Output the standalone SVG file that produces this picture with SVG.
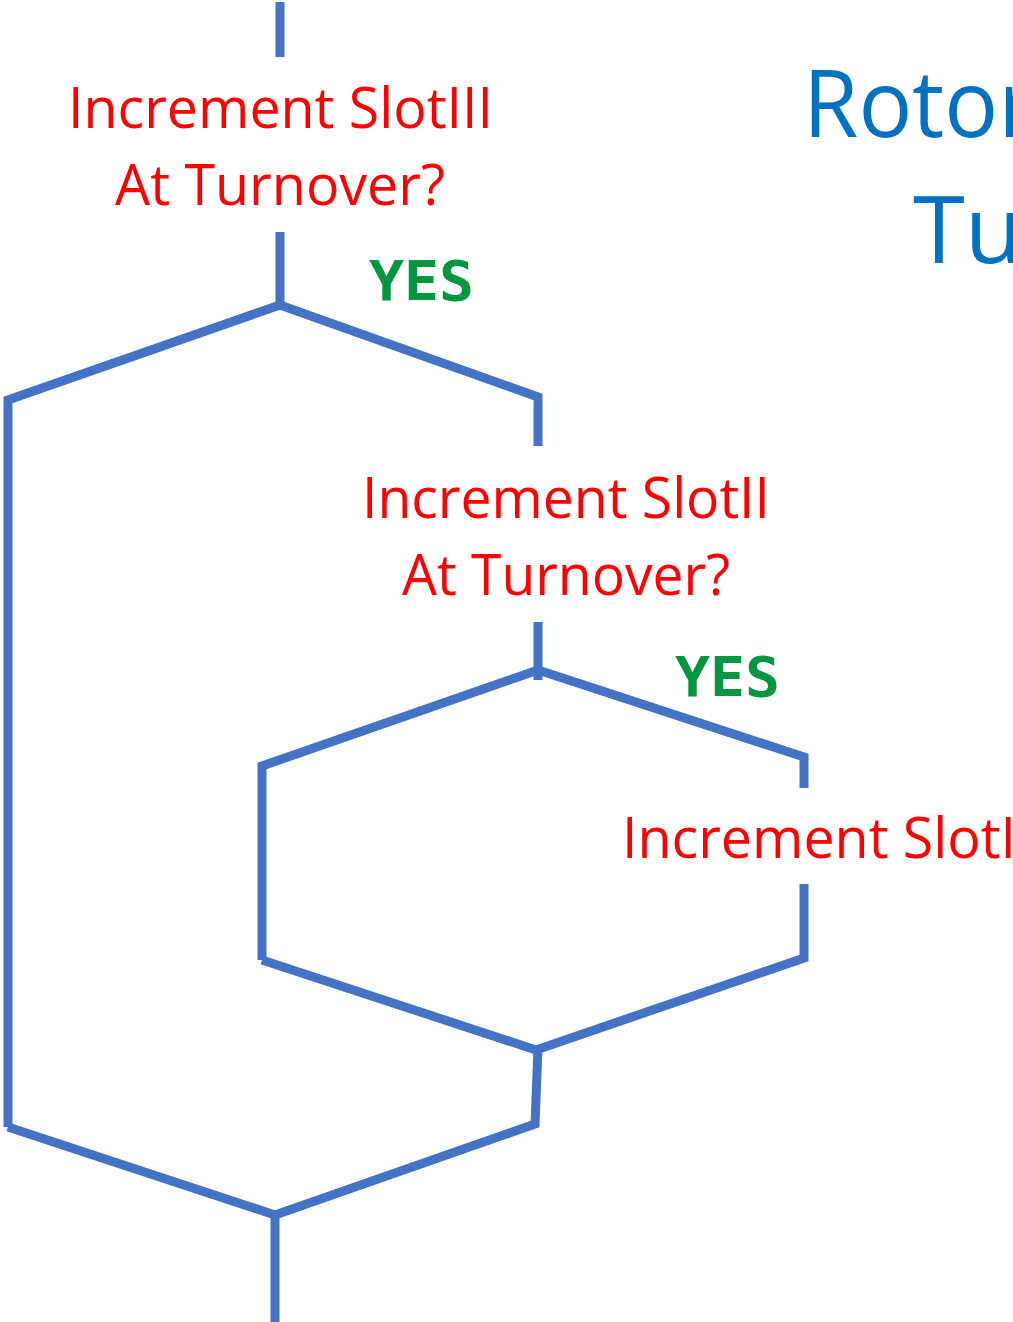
<svg xmlns="http://www.w3.org/2000/svg" width="1013" height="1322" viewBox="0 0 1013 1322">
<style>
.c{fill:none;stroke:#4472C4;stroke-width:9;stroke-linejoin:miter;stroke-linecap:butt}
.q{font-family:"Open Sans","Liberation Sans",sans-serif;font-size:56px;fill:#FF0000}
.y{font-family:"DejaVu Sans Mono","Liberation Mono",monospace;font-weight:bold;font-size:56px;fill:#00953F}
.t{font-family:"Open Sans","Liberation Sans",sans-serif;font-size:94px;fill:#0070C0}
</style>
<rect width="1013" height="1322" fill="#FFFFFF"/>
<g id="connectors">
<path class="c" d="M280,2 V57"/>
<path class="c" d="M280,232 V305"/>
<path class="c" d="M8,1127 V400 L280,305 L538,397 V446"/>
<path class="c" d="M538,622 V680"/>
<path class="c" d="M262,960 V766 L538,670 L804,757 V788"/>
<path class="c" d="M804,884 V958 L536,1050 L262,960"/>
<path class="c" d="M538,1048 L535,1124 L275,1215 L8,1127"/>
<path class="c" d="M275,1213 V1322"/>
</g>
<g id="title">
<text class="t" x="803" y="137" textLength="232" lengthAdjust="spacingAndGlyphs">Rotor</text>
<text class="t" x="913" y="263">Tu</text>
</g>
<g id="q3">
<text class="q" x="68" y="128" textLength="425" lengthAdjust="spacingAndGlyphs">Increment SlotIII</text>
<text class="q" x="115" y="205" textLength="330" lengthAdjust="spacingAndGlyphs">At Turnover?</text>
</g>
<g id="yes1"><text class="y" x="369" y="300" textLength="105" lengthAdjust="spacingAndGlyphs">YES</text></g>
<g id="q2">
<text class="q" x="362" y="518" textLength="408" lengthAdjust="spacingAndGlyphs">Increment SlotII</text>
<text class="q" x="402" y="595" textLength="328" lengthAdjust="spacingAndGlyphs">At Turnover?</text>
</g>
<g id="yes2"><text class="y" x="675" y="696" textLength="105" lengthAdjust="spacingAndGlyphs">YES</text></g>
<g id="inc1">
<text class="q" x="622" y="858" textLength="394" lengthAdjust="spacingAndGlyphs">Increment SlotI</text>
</g>
</svg>
